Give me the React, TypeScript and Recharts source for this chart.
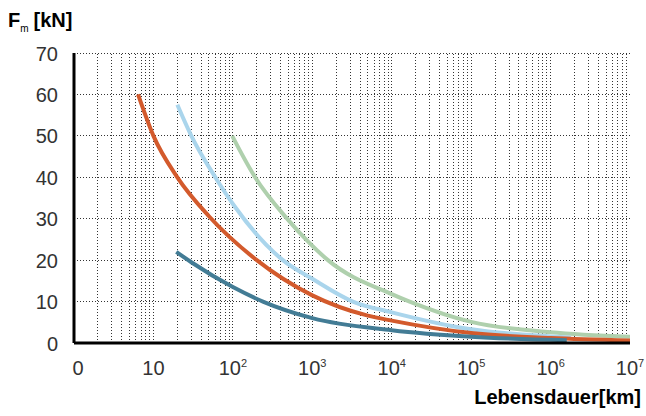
import React from "react";
import { CartesianGrid, Line, LineChart, ReferenceLine, XAxis, YAxis } from "recharts";

// Lebensdauer [km] vs. Belastung F_m [kN]
const orangeLife = [6.4, 10, 20, 50, 200, 1000, 5000, 1e4, 1e5, 1e6, 1e7];
const orangeForce = [60, 50, 40, 30.6, 20, 11.5, 6.6, 5.4, 2.4, 1.2, 0.6];

const blueLife = [20, 30, 62, 105, 426, 1000, 3240, 1e4, 1e5, 1e6, 1.8e6];
const blueForce = [57.5, 50, 39.6, 33, 20, 15.5, 10, 7.4, 3.3, 1.6, 1.3];

const greenLife = [98, 188, 472, 925, 1574, 1e4, 16800, 1e5, 1e6, 1e7];
const greenForce = [50, 40.2, 30.2, 24.1, 20, 11.8, 10, 5.1, 2.6, 1.5];

const tealLife = [19.4, 30, 100, 239, 1000, 1e4, 1e5, 1.6e6];
const tealForce = [22, 19.5, 13.5, 10, 6, 3.1, 1.5, 0.65];

const xTicks = [1, 10, 100, 1e3, 1e4, 1e5, 1e6, 1e7];
const yTicks = [0, 10, 20, 30, 40, 50, 60, 70];

// log grid: 2..10 in every decade
const gridX: number[] = [];
for (let d = 0; d < 7; d++) {
  for (let k = 2; k <= 10; k++) {
    if (d === 6 && k === 10) continue;
    gridX.push(k * Math.pow(10, d));
  }
}

const pairs = (xs: number[], ys: number[]) => xs.map((life, i) => ({ life, force: ys[i] }));

const FONT = '"Liberation Sans", Arial, sans-serif';

function XTick({ x, y, payload }: any) {
  const e = Math.round(Math.log10(payload.value));
  return (
    <text x={x + (e === 0 ? 4 : 0)} y={y + 30} textAnchor="middle" fontFamily={FONT} fontSize={20} fill="#333">
      {e === 0 ? "0" : e === 1 ? "10" : (
        <>
          <tspan>10</tspan>
          <tspan dy={-8} fontSize={11}>{e}</tspan>
        </>
      )}
    </text>
  );
}

function YTick({ x, y, payload }: any) {
  return (
    <text x={x - 14} y={y + 7.5} textAnchor="end" fontFamily={FONT} fontSize={20} fill="#333">
      {payload.value}
    </text>
  );
}

export default function App() {
  return (
    <div style={{ position: "absolute", left: 0, top: 0, width: 646, height: 416, background: "#fff" }}>
      <LineChart width={646} height={416} margin={{ top: 53, right: 16, bottom: 43, left: 0 }}>
        <CartesianGrid vertical={false} stroke="#333" strokeDasharray="1 2" shapeRendering="crispEdges" />
        {gridX.map((v) => (
          <ReferenceLine key={v} x={v} stroke="#333" strokeDasharray="1 2" shapeRendering="crispEdges" />
        ))}
        <XAxis
          dataKey="life"
          type="number"
          scale="log"
          domain={[1, 1e7]}
          allowDataOverflow
          ticks={xTicks}
          interval={0}
          tick={<XTick />}
          tickLine={false}
          tickSize={0}
          height={30}
          axisLine={{ stroke: "#000", strokeWidth: 3 }}
        />
        <YAxis
          type="number"
          domain={[0, 70]}
          ticks={yTicks}
          interval={0}
          tick={<YTick />}
          tickLine={false}
          tickSize={0}
          width={74}
          axisLine={{ stroke: "#000", strokeWidth: 3 }}
        />
        <Line data={pairs(greenLife, greenForce)} dataKey="force" type="monotone" stroke="#afd0ad" strokeWidth={4} dot={false} isAnimationActive={false} />
        <Line data={pairs(blueLife, blueForce)} dataKey="force" type="monotone" stroke="#aad5ec" strokeWidth={4} dot={false} isAnimationActive={false} />
        <Line data={pairs(orangeLife, orangeForce)} dataKey="force" type="monotone" stroke="#d35a2c" strokeWidth={4} dot={false} isAnimationActive={false} />
        <Line data={pairs(tealLife, tealForce)} dataKey="force" type="monotone" stroke="#437c95" strokeWidth={4} dot={false} isAnimationActive={false} />
      </LineChart>
      <svg width={646} height={416} style={{ position: "absolute", left: 0, top: 0, pointerEvents: "none" }}>
        <text x={8} y={27} fontFamily={FONT} fontWeight="bold" fontSize={20} fill="#000">
          F
          <tspan dy={5} fontSize={10} fontWeight="normal">m</tspan>
          <tspan dy={-5} dx={5}>[kN]</tspan>
        </text>
        <text x={641} y={404} textAnchor="end" fontFamily={FONT} fontWeight="bold" fontSize={20} fill="#000">
          Lebensdauer[km]
        </text>
      </svg>
    </div>
  );
}
